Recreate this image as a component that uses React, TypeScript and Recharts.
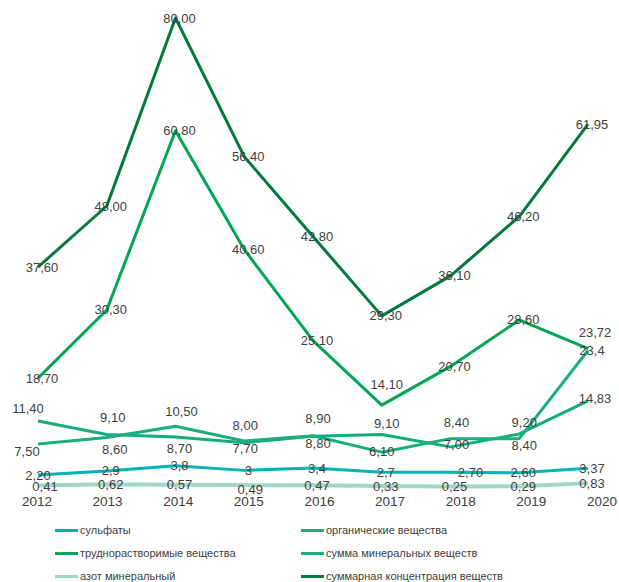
import { LabelList, Legend, Line, LineChart, XAxis, YAxis } from 'recharts';

const years = ['2012', '2013', '2014', '2015', '2016', '2017', '2018', '2019', '2020'];

// values as printed in the labels (comma decimals)
const sulfatesText = ['2,20', '2,9', '3,8', '3', '3,4', '2,7', '2,70', '2,60', '3,37'];
const organicText = ['11,40', '9,10', '8,70', '7,70', '8,80', '9,10', '7,00', '9,20', '14,83'];
const hardSolubleText = ['18,70', '30,30', '60,80', '40,60', '25,10', '14,10', '20,70', '28,60', '23,72'];
const mineralSumText = ['7,50', '8,60', '10,50', '8,00', '8,90', '6,10', '8,40', '8,40', '23,4'];
const nitrogenText = ['0,41', '0,62', '0,57', '0,49', '0,47', '0,33', '0,25', '0,29', '0,83'];
const totalText = ['37,60', '48,00', '80,00', '56,40', '42,80', '29,30', '36,10', '46,20', '61,95'];

const toNumber = (s: string) => parseFloat(s.replace(',', '.'));

const series = [
  { key: 'sulfates', name: 'сульфаты', color: '#00b3b5', width: 3, texts: sulfatesText },
  { key: 'organic', name: 'органические вещества', color: '#14ad80', width: 3, texts: organicText },
  { key: 'hardSoluble', name: 'труднорастворимые вещества', color: '#00a651', width: 3, texts: hardSolubleText },
  { key: 'mineralSum', name: 'сумма минеральных веществ', color: '#19ae7e', width: 3, texts: mineralSumText },
  { key: 'nitrogen', name: 'азот минеральный', color: '#9fd9c6', width: 4, texts: nitrogenText },
  { key: 'total', name: 'суммарная концентрация веществ', color: '#007a3d', width: 3, texts: totalText },
];

const data = years.map((year, i) => {
  const row: Record<string, string | number> = { year };
  series.forEach((s) => { row[s.key] = toNumber(s.texts[i]); });
  return row;
});

// label nudges [dx, dy] where the labels sit off their points
const labelNudge: Record<string, Record<number, [number, number]>> = {
  organic: { 0: [-10, -13], 1: [6, -17], 2: [4, 12], 3: [1, 6], 4: [5, 7], 5: [5, -11], 6: [6, -2], 7: [5, -11], 8: [7, -2] },
  mineralSum: { 0: [-11, 8], 1: [8, 12], 2: [6, -15], 3: [1, -16], 4: [5, -17], 5: [0, -1], 6: [6, -16], 7: [5, 7], 8: [4, 0] },
  hardSoluble: { 5: [5, -21], 8: [7, -16] },
  sulfates: { 0: [0, 0], 6: [20, 0] },
  nitrogen: { 0: [7, 1], 3: [6, 4] },
};

const font = '"Liberation Sans", Arial, sans-serif';
const textColor = '#404040';

function makeLabel(key: string, texts: string[]) {
  return (props: any) => {
    const { x, y, index } = props;
    if (x == null || y == null) return null;
    const [dx, dy] = labelNudge[key]?.[index] ?? [4, 0];
    return (
      <text key={`${key}-${index}`} x={Number(x) + dx} y={Number(y) + dy} textAnchor="middle" dominantBaseline="central"
        fontSize={13} fontFamily={font} fill={textColor}>
        {texts[index]}
      </text>
    );
  };
}

function LegendGrid() {
  const order = ['sulfates', 'organic', 'hardSoluble', 'mineralSum', 'nitrogen', 'total'];
  return (
    <div style={{ height: 64, position: 'relative' }}>
      <div style={{ display: 'grid', gridTemplateColumns: '246px 320px', gridAutoRows: '23px', paddingLeft: 37, paddingTop: 1 }}>
        {order.map((k) => {
          const s = series.find((item) => item.key === k)!;
          return (
            <div key={k} style={{ display: 'flex', alignItems: 'center', whiteSpace: 'nowrap' }}>
              <span style={{ display: 'inline-block', width: 23, height: 3, background: s.color, marginRight: 2 }}/>
              <span style={{ fontSize: 11, lineHeight: '13px', fontFamily: font, color: textColor }}>{s.name}</span>
            </div>
          );
        })}
      </div>
    </div>
  );
}

export default function App() {
  return (
    <div style={{ position: 'absolute', left: 0, top: 0, background: '#fff' }}>
      <LineChart width={619} height={582} data={data} margin={{ top: 18, right: 0, bottom: 0, left: 18 }}>
        <XAxis dataKey="year" padding={{ left: 20, right: 31 }} tick={false} tickLine={false} height={0}
          axisLine={{ stroke: '#8a8a8a', strokeWidth: 1 }}/>
        <XAxis xAxisId="ticks" dataKey="year" padding={{ left: 19, right: 17 }} axisLine={false} tickLine={false} height={30}
          tick={{ fontSize: 13.5, fill: textColor, fontFamily: font }}/>
        <YAxis hide domain={[0, 80]}/>
        <Legend verticalAlign="bottom" content={() => <LegendGrid/>}/>
        {series.map((s) => (
          <Line key={s.key} type="linear" dataKey={s.key} name={s.name} stroke={s.color} strokeWidth={s.width}
            strokeLinejoin="round" dot={false} activeDot={false} isAnimationActive={false}>
            <LabelList dataKey={s.key} content={makeLabel(s.key, s.texts)}/>
          </Line>
        ))}
      </LineChart>
    </div>
  );
}
